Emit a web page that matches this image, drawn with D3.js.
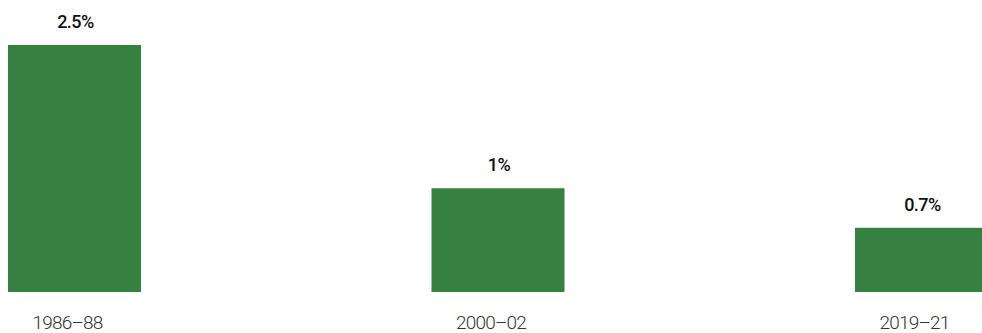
<!DOCTYPE html>
<html>
<head>
<meta charset="utf-8">
<script src="https://cdn.jsdelivr.net/npm/d3@7/dist/d3.min.js"></script>
<style>
  html, body { margin: 0; padding: 0; background: #fff; }
  svg { display: block; }
</style>
</head>
<body>
<div id="chart"></div>
<script>
// periods and average rates
var periods = ["1986-88", "2000-02", "2019-21"];
var rates = [2.5, 1.05, 0.65];
var rateLabels = ["2.5%", "1%", "0.7%"];

var width = 982,
    height = 333;
var baseY = 292,
    topY = 45;

var svg = d3.select("#chart")
  .append("svg")
    .attr("width", width)
    .attr("height", height);

var x = d3.scaleBand()
  .domain(periods)
  .range([8, 988])
  .paddingInner(0.686)
  .paddingOuter(0);

var y = d3.scaleLinear()
  .domain([0, 2.5])
  .range([baseY, topY]);

var rows = periods.map(function(p, i) {
  return { period: p, rate: rates[i], label: rateLabels[i] };
});

// bars
svg.selectAll("rect.bar")
  .data(rows)
  .enter()
    .append("rect")
    .attr("class", "bar")
    .attr("x", function(d) { return x(d.period); })
    .attr("y", function(d) { return y(d.rate); })
    .attr("width", x.bandwidth())
    .attr("height", function(d) { return baseY - y(d.rate); })
    .attr("fill", "#368141");

// value labels above bars
svg.selectAll("text.value")
  .data(rows)
  .enter()
    .append("text")
    .attr("class", "value")
    .attr("x", function(d) { return x(d.period) + x.bandwidth() / 2 + 1; })
    .attr("y", function(d) { return y(d.rate) - 17; })
    .attr("text-anchor", "middle")
    .style("font-family", "Roboto, sans-serif")
    .style("font-size", "18px")
    .style("font-weight", 500)
    .style("letter-spacing", "-0.5px")
    .attr("fill", "#111")
    .text(function(d) { return d.label; });

// period labels under bars
svg.selectAll("text.period")
  .data(rows)
  .enter()
    .append("text")
    .attr("class", "period")
    .attr("x", function(d) { return x(d.period) + x.bandwidth() / 2 - 7; })
    .attr("y", 329)
    .attr("text-anchor", "middle")
    .style("font-family", "Roboto, sans-serif")
    .style("font-size", "19px")
    .style("font-weight", 300)
    .style("letter-spacing", "-0.8px")
    .attr("fill", "#333")
    .text(function(d) { return d.period.replace("-", "\u2013"); });
</script>
</body>
</html>
